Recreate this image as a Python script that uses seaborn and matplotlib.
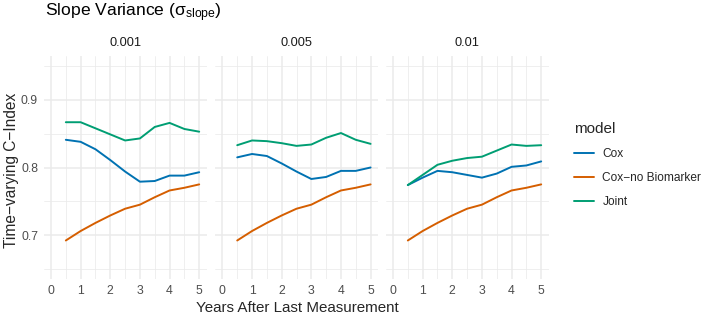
import matplotlib
matplotlib.use("Agg")
import matplotlib.pyplot as plt
from matplotlib.ticker import MultipleLocator
import seaborn as sns
import pandas as pd

# data
years = [0.5, 1.0, 1.5, 2.0, 2.5, 3.0, 3.5, 4.0, 4.5, 5.0]
panels = ["0.001", "0.005", "0.01"]
models = ["Cox", "Cox\u2212no Biomarker", "Joint"]

cox_nobio = [0.692, 0.706, 0.718, 0.729, 0.739, 0.745, 0.756, 0.766, 0.770, 0.775]

cox_001 = [0.841, 0.838, 0.827, 0.811, 0.794, 0.779, 0.780, 0.788, 0.788, 0.793]
joint_001 = [0.867, 0.867, 0.858, 0.849, 0.840, 0.843, 0.860, 0.866, 0.857, 0.853]

cox_005 = [0.815, 0.820, 0.817, 0.806, 0.794, 0.783, 0.786, 0.795, 0.795, 0.800]
joint_005 = [0.833, 0.840, 0.839, 0.836, 0.832, 0.834, 0.844, 0.851, 0.841, 0.835]

cox_01 = [0.774, 0.785, 0.795, 0.793, 0.789, 0.785, 0.791, 0.801, 0.803, 0.809]
joint_01 = [0.774, 0.789, 0.804, 0.810, 0.814, 0.816, 0.825, 0.834, 0.832, 0.833]

series = {
    "0.001": [cox_001, cox_nobio, joint_001],
    "0.005": [cox_005, cox_nobio, joint_005],
    "0.01": [cox_01, cox_nobio, joint_01],
}

rows = []
for p in panels:
    for m, vals in zip(models, series[p]):
        for x, y in zip(years, vals):
            rows.append({"panel": p, "model": m, "year": x, "cindex": y})
df = pd.DataFrame(rows)

palette = {models[0]: "#0072B2", models[1]: "#D55E00", models[2]: "#009E73"}

sns.set_style("white")
plt.rcParams["font.family"] = ["Liberation Sans", "DejaVu Sans"]
plt.rcParams["mathtext.fontset"] = "custom"
plt.rcParams["mathtext.rm"] = "Liberation Sans"
plt.rcParams["mathtext.it"] = "Liberation Sans"

fig = plt.figure(figsize=(7.08, 3.14), dpi=100)

W, H = 708, 314
lefts = [43.6, 215.0, 385.6]
pw = 163.0
top_px, bot_px = 56.0, 279.0
tick_fs = 8.8

axes = []
for i, p in enumerate(panels):
    ax = fig.add_axes([lefts[i] / W, 1 - bot_px / H, pw / W, (bot_px - top_px) / H])
    sub = df[df["panel"] == p]
    sns.lineplot(data=sub, x="year", y="cindex", hue="model", palette=palette,
                 hue_order=models, linewidth=1.4, ax=ax, legend=(i == 0))
    ax.set_xlim(-0.25, 5.25)
    ax.set_ylim(0.635, 0.965)
    ax.xaxis.set_major_locator(MultipleLocator(1))
    ax.xaxis.set_minor_locator(MultipleLocator(0.5))
    ax.yaxis.set_major_locator(MultipleLocator(0.1))
    ax.yaxis.set_minor_locator(MultipleLocator(0.05))
    ax.grid(which="major", color="#EBEBEB", linewidth=1.1)
    ax.grid(which="minor", color="#EBEBEB", linewidth=0.55)
    ax.set_axisbelow(True)
    for s in ax.spines.values():
        s.set_visible(False)
    ax.tick_params(which="both", length=0, labelsize=tick_fs, labelcolor="#4D4D4D")
    ax.tick_params(axis="x", pad=4)
    ax.tick_params(axis="y", pad=4)
    ax.set_xlabel("")
    ax.set_ylabel("")
    if i > 0:
        ax.set_yticklabels([])
    else:
        ax.set_yticks([0.7, 0.8, 0.9])
        ax.set_yticklabels(["0.7", "0.8", "0.9"])
    ax.text(0.5, 1.0 + 13 / (bot_px - top_px), p, transform=ax.transAxes,
            ha="center", va="center", fontsize=9.2, color="#1A1A1A")
    axes.append(ax)

handles, labels = axes[0].get_legend_handles_labels()
axes[0].get_legend().remove()
leg = fig.legend(handles, labels, title="model", loc="center left",
                 bbox_to_anchor=(563 / W, 1 - 165 / H), frameon=False,
                 fontsize=8.6, title_fontsize=11.0, handlelength=1.7,
                 handletextpad=0.7, labelspacing=1.0, alignment="left")

fig.text(45 / W, 1 - 13 / H, r"Slope Variance ($\sigma_{\mathrm{slope}}$)",
         fontsize=12.6, ha="left", va="center", color="#000000")
fig.text(297 / W, 1 - 308 / H, "Years After Last Measurement", fontsize=10.9,
         ha="center", va="center")
fig.text(12 / W, 1 - 170 / H, "Time\u2212varying C\u2212Index", fontsize=11.2,
         ha="center", va="center", rotation=90)

fig.savefig("out.png", dpi=100)
